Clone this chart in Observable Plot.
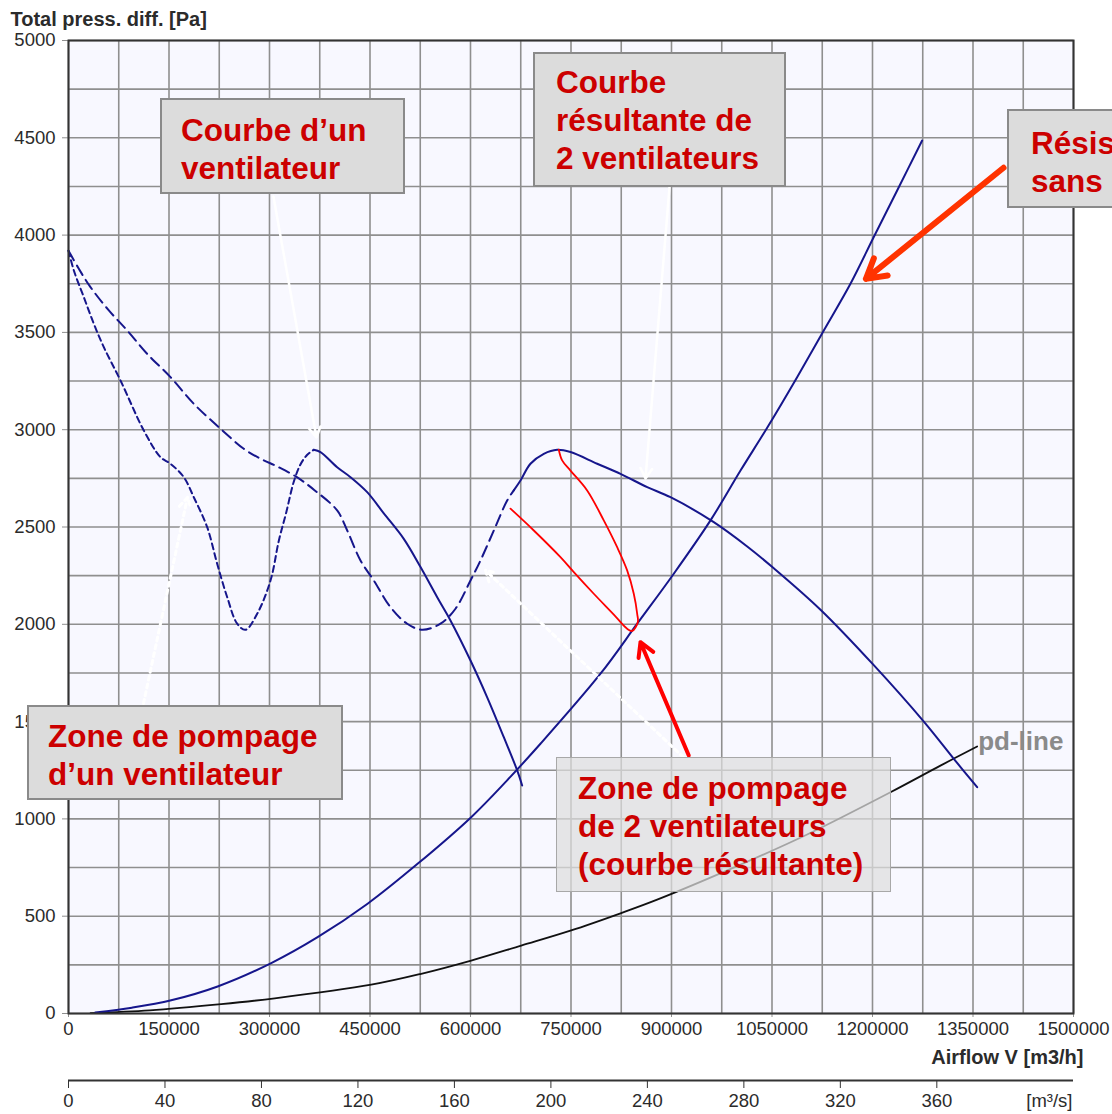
<!DOCTYPE html>
<html>
<head>
<meta charset="utf-8">
<script src="https://cdn.jsdelivr.net/npm/d3@7"></script>
<script src="https://cdn.jsdelivr.net/npm/@observablehq/plot@0.6"></script>
<style>
html, body { margin:0; padding:0; background:#fff; overflow:hidden; }
#wrap { position:relative; width:1112px; height:1114px; overflow:hidden; font-family:"Liberation Sans", Arial, sans-serif; }
.layer { position:absolute; left:0; }
.note { position:absolute; box-sizing:border-box; background:#dcdcdc; border:2px solid #8a8a8a; color:#cc0000; font-weight:bold; font-size:31.5px; line-height:38px; white-space:nowrap; }
.note.glass { background:rgba(222,222,222,0.72); border:1.5px solid #a8a8a8; }
</style>
</head>
<body>
<div id="wrap"></div>
<script>
// ---- axis ticks / grid ----
const xTicks = [0, 150000, 300000, 450000, 600000, 750000, 900000, 1050000, 1200000, 1350000, 1500000];
const xGrid = [0, 75000, 150000, 225000, 300000, 375000, 450000, 525000, 600000, 675000, 750000, 825000, 900000, 975000, 1050000, 1125000, 1200000, 1275000, 1350000, 1425000, 1500000];
const yTicks = [0, 500, 1000, 1500, 2000, 2500, 3000, 3500, 4000, 4500, 5000];
const yGrid = [0, 250, 500, 750, 1000, 1250, 1500, 1750, 2000, 2250, 2500, 2750, 3000, 3250, 3500, 3750, 4000, 4250, 4500, 4750, 5000];
const m3sTicks = [0, 40, 80, 120, 160, 200, 240, 280, 320, 360];
const airflowMax = 1500000; // m3/h
const pressureMax = 5000;   // Pa

// ---- one fan: unstable (dashed) part ----
const fanUnstableQ = [0, 8000, 22900, 37800, 52700, 77600, 112400, 137300, 152200, 172100, 187000, 207000, 221900, 236900, 251800, 264200, 281600, 301500, 314000, 325000, 336000, 346000, 356000, 366100];
const fanUnstableP = [3920, 3818, 3681, 3544, 3424, 3253, 2996, 2859, 2825, 2756, 2653, 2499, 2311, 2139, 2003, 1972, 2054, 2225, 2431, 2575, 2730, 2820, 2870, 2897];
// ---- one fan: stable (solid) part ----
const fanStableQ = [366100, 376100, 401000, 420900, 445800, 470600, 500400, 525400, 550300, 570100, 600000, 624900, 649700, 669700, 677100];
const fanStableP = [2897, 2885, 2807, 2756, 2679, 2570, 2439, 2294, 2139, 2020, 1814, 1625, 1420, 1249, 1172];
// ---- two fans (resultant): unstable (dashed) part ----
const pairUnstableQ = [0, 15400, 32800, 60200, 87600, 117400, 152200, 187000, 226900, 261600, 286600, 313900, 340900, 367600, 401000, 416000, 435800, 455700, 480600, 505500, 527900, 555200, 577600, 600000, 614900, 634800, 654700, 664600];
const pairUnstableP = [3920, 3827, 3733, 3613, 3510, 3390, 3270, 3133, 3005, 2902, 2851, 2807, 2756, 2688, 2585, 2482, 2328, 2225, 2088, 2003, 1972, 2003, 2080, 2225, 2328, 2482, 2636, 2688];
// ---- two fans (resultant): stable (solid) part ----
const pairStableQ = [664600, 674600, 689500, 709400, 729400, 749200, 789100, 823900, 863700, 898500, 963100, 1013000, 1052700, 1122400, 1201900, 1276600, 1321300, 1356200];
const pairStableP = [2688, 2739, 2825, 2876, 2897, 2885, 2825, 2773, 2705, 2653, 2525, 2400, 2288, 2075, 1790, 1500, 1309, 1163];
// ---- system resistance curve ----
const systemQ = [40000, 94600, 153300, 222600, 302600, 371800, 446400, 521000, 601000, 654300, 704400, 794000, 848800, 903400, 958200, 1003000, 1042800, 1087500, 1127300, 1167100, 1201900, 1236800, 1274100];
const systemP = [5, 30, 68, 139, 259, 392, 564, 769, 1009, 1197, 1386, 1746, 2003, 2260, 2534, 2790, 3010, 3270, 3510, 3750, 3990, 4229, 4486];
// ---- pd-line (dynamic pressure) ----
const pdLineQ = [33000, 121300, 227900, 307800, 451800, 526400, 601000, 675700, 750300, 823900, 878600, 1003000, 1102500, 1226800, 1301400, 1356200];
const pdLineP = [2, 16, 48, 78, 148, 204, 272, 349, 427, 515, 585, 765, 920, 1137, 1274, 1372];
// ---- surge zone of the resultant curve (red) ----
const surgeQ = [659700, 694500, 734300, 754200, 784000, 813900, 833800, 841300, 849700, 848800, 843700, 833800, 818900, 798900, 774100, 749200, 736800, 731800];
const surgeP = [2594, 2482, 2345, 2268, 2157, 2050, 1977, 1966, 2011, 2054, 2157, 2277, 2396, 2534, 2688, 2790, 2842, 2897];

// ---- annotation arrows (data units) ----
const whiteArrowsSolid = [
  {q1: 305900, p1: 4198, q2: 370100, p2: 2960},
  {q1: 897000, p1: 4245, q2: 861200, p2: 2749}
];
const whiteArrowsDotted = [
  {q1: 111900, p1: 1593, q2: 177600, p2: 2652},
  {q1: 917900, p1: 1316, q2: 622400, p2: 2277}
];
const arrowSystem = [{q1: 1395600, p1: 4346, q2: 1190200, p2: 3775}];
const arrowSurge = [{q1: 925800, p1: 1326, q2: 853700, p2: 1908}];

const notes = [
  ["Courbe d’un", "ventilateur"],
  ["Courbe", "résultante de", "2 ventilateurs"],
  ["Résistance", "sans registre"],
  ["Zone de pompage", "d’un ventilateur"],
  ["Zone de pompage", "de 2 ventilateurs", "(courbe résultante)"]
];

const rows = (qs, ps) => qs.map((q, i) => ({q, p: ps[i]}));
const navy = "#16168c";
const font = "'Liberation Sans', Arial, sans-serif";
const pdRows = rows(pdLineQ, pdLineP);

const main = Plot.plot({
  width: 1112, height: 1114,
  marginTop: 40, marginRight: 39, marginBottom: 101, marginLeft: 68,
  style: {fontFamily: font, fontSize: "18.5px", color: "#2b2b2b", background: "transparent", overflow: "visible"},
  x: {domain: [0, airflowMax]},
  y: {domain: [0, pressureMax]},
  marks: [
    Plot.frame({fill: "#f8f8ff", stroke: null}),
    Plot.gridX(xGrid, {stroke: "#8f8f8f", strokeOpacity: 1, strokeWidth: 1.6}),
    Plot.gridY(yGrid, {stroke: "#8f8f8f", strokeOpacity: 1, strokeWidth: 1.6}),
    Plot.axisY({ticks: yTicks, tickSize: 6, tickPadding: 7, tickFormat: d3.format("d"), label: null, stroke: "#8f8f8f", fill: "#2b2b2b"}),
    Plot.axisX({ticks: xTicks, tickSize: 4, tickPadding: 4, tickFormat: d3.format("d"), label: null, stroke: "#8f8f8f", fill: "#2b2b2b"}),
    Plot.line(pdRows, {x: "q", y: "p", stroke: "#111", strokeWidth: 1.8, curve: "catmull-rom"}),
    Plot.line(rows(systemQ, systemP), {x: "q", y: "p", stroke: navy, strokeWidth: 2, curve: "catmull-rom"}),
    Plot.line(rows(fanUnstableQ, fanUnstableP), {x: "q", y: "p", stroke: navy, strokeWidth: 2, strokeDasharray: "6,4", curve: "catmull-rom"}),
    Plot.line(rows(fanStableQ, fanStableP), {x: "q", y: "p", stroke: navy, strokeWidth: 2, curve: "catmull-rom"}),
    Plot.line(rows(pairUnstableQ, pairUnstableP), {x: "q", y: "p", stroke: navy, strokeWidth: 2, strokeDasharray: "11,6", curve: "catmull-rom"}),
    Plot.line(rows(pairStableQ, pairStableP), {x: "q", y: "p", stroke: navy, strokeWidth: 2, curve: "catmull-rom"}),
    Plot.line(rows(surgeQ, surgeP), {x: "q", y: "p", stroke: "#ff0000", strokeWidth: 1.8, curve: "catmull-rom"}),
    Plot.arrow(whiteArrowsSolid, {x1: "q1", y1: "p1", x2: "q2", y2: "p2", stroke: "#ffffff", strokeWidth: 2.5, headLength: 7}),
    Plot.arrow(whiteArrowsDotted, {x1: "q1", y1: "p1", x2: "q2", y2: "p2", stroke: "#ffffff", strokeWidth: 3, strokeDasharray: "4,4", headLength: 6}),
    Plot.arrow(arrowSystem, {x1: "q1", y1: "p1", x2: "q2", y2: "p2", stroke: "#ff3300", strokeWidth: 6, headLength: 5.5}),
    Plot.arrow(arrowSurge, {x1: "q1", y1: "p1", x2: "q2", y2: "p2", stroke: "#ff0000", strokeWidth: 4, headLength: 6}),
    Plot.frame({stroke: "#333", strokeWidth: 2}),
    Plot.text(pdRows.slice(-1), {x: "q", y: "p", text: () => "pd-line", textAnchor: "start", lineAnchor: "middle", dx: 1, dy: -5, fontSize: 26, fontWeight: "bold", fill: "#8a8a8a"}),
    Plot.text(["Total press. diff. [Pa]"], {text: d => d, frameAnchor: "top-left", textAnchor: "start", lineAnchor: "middle", dx: -58, dy: -21, fontSize: 20, fontWeight: "bold", fill: "#2b2b2b"}),
    Plot.text(["Airflow V [m3/h]"], {text: d => d, frameAnchor: "bottom-right", textAnchor: "end", lineAnchor: "middle", dx: 10, dy: 44, fontSize: 20, fontWeight: "bold", fill: "#2b2b2b"})
  ]
});

const second = Plot.plot({
  width: 1112, height: 50,
  marginTop: 0, marginBottom: 34, marginLeft: 68, marginRight: 39,
  style: {fontFamily: font, fontSize: "18.5px", color: "#2b2b2b", background: "transparent", overflow: "visible"},
  x: {domain: [0, airflowMax / 3600]},
  y: {domain: [0, 1], axis: null},
  marks: [
    Plot.ruleY([0], {stroke: "#333", strokeWidth: 2}),
    Plot.axisX({ticks: m3sTicks, tickSize: 8, tickPadding: 5, tickFormat: d3.format("d"), label: null, stroke: "#333", fill: "#2b2b2b"}),
    Plot.text(["[m³/s]"], {text: d => d, frameAnchor: "bottom-right", textAnchor: "end", lineAnchor: "middle", dy: 21, dx: -1, fill: "#2b2b2b"})
  ]
});

const wrap = document.getElementById("wrap");
const l1 = document.createElement("div"); l1.className = "layer"; l1.style.top = "0px"; l1.appendChild(main); wrap.appendChild(l1);
const l2 = document.createElement("div"); l2.className = "layer"; l2.style.top = "1064px"; l2.appendChild(second); wrap.appendChild(l2);

const boxes = [
  {left: 160, top: 98, width: 245, height: 96, padL: 19, padT: 11},
  {left: 533, top: 52, width: 253, height: 135, padL: 21, padT: 9},
  {left: 1007, top: 109, width: 260, height: 99, padL: 22, padT: 13},
  {left: 27, top: 705, width: 316, height: 95, padL: 19, padT: 10},
  {left: 556, top: 757, width: 335, height: 135, padL: 21, padT: 11, glass: true}
];
boxes.forEach((b, i) => {
  const d = document.createElement("div");
  d.className = "note" + (b.glass ? " glass" : "");
  Object.assign(d.style, {left: b.left + "px", top: b.top + "px", width: b.width + "px", height: b.height + "px", paddingLeft: b.padL + "px", paddingTop: b.padT + "px"});
  notes[i].forEach(line => { const s = document.createElement("div"); s.textContent = line; d.appendChild(s); });
  wrap.appendChild(d);
});
</script>
</body>
</html>
